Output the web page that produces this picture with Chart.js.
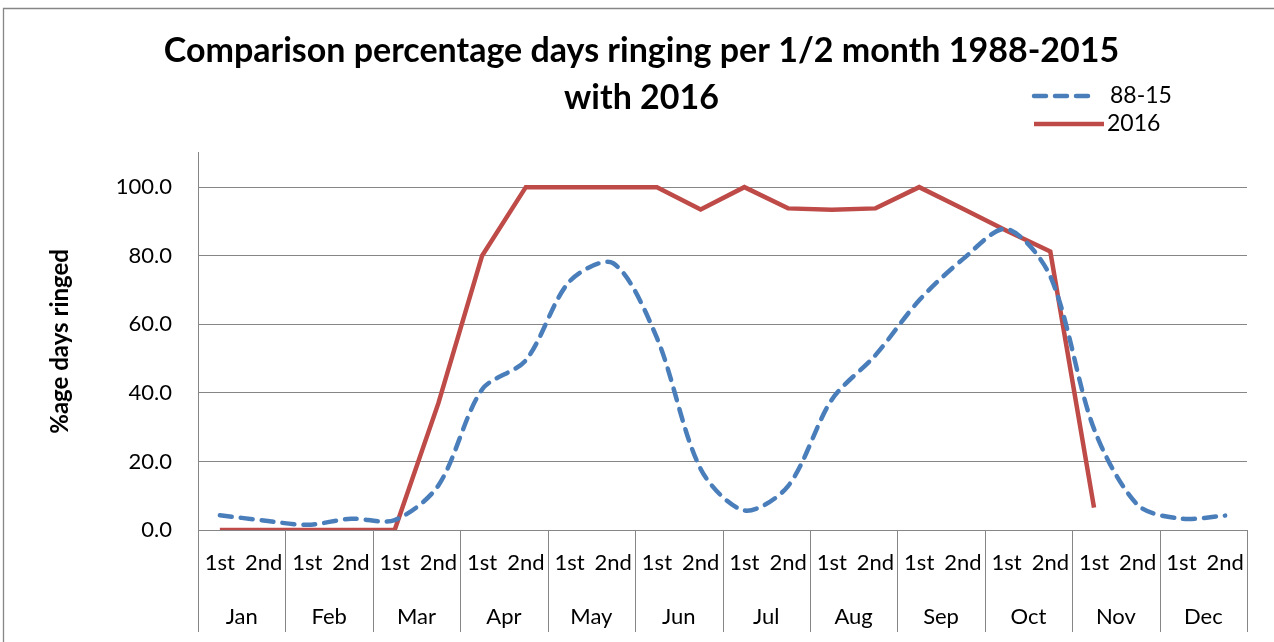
<!DOCTYPE html>
<html>
<head>
<meta charset="utf-8">
<script src="https://cdn.jsdelivr.net/npm/chart.js@4/dist/chart.umd.min.js"></script>
<style>
  html, body { margin: 0; padding: 0; background: #fff; }
  canvas { display: block; }
</style>
</head>
<body>
<canvas id="ringChart" width="1274" height="642"></canvas>
<script>
// half-month categories and month names
const halves = ['1st', '2nd', '1st', '2nd', '1st', '2nd', '1st', '2nd', '1st', '2nd', '1st', '2nd',
                '1st', '2nd', '1st', '2nd', '1st', '2nd', '1st', '2nd', '1st', '2nd', '1st', '2nd'];
const months = ['Jan', 'Feb', 'Mar', 'Apr', 'May', 'Jun', 'Jul', 'Aug', 'Sep', 'Oct', 'Nov', 'Dec'];

// percentage days ringed per half month
const avg8815 = [4.3, 2.8, 1.5, 3.3, 2.9, 13.0, 41.0, 49.5, 72.5, 77.8, 56.0, 17.8,
                 5.7, 12.8, 38.0, 51.0, 67.0, 79.0, 87.8, 74.0, 29.5, 7.3, 3.3, 4.2];
const year2016 = [0, 0, 0, 0, 0, 37.0, 80.0, 100, 100, 100, 100, 93.5,
                  100, 93.8, 93.4, 93.8, 100, 93.7, 87.3, 81.2, 6.5, null, null, null];

const yTicks = [0, 20, 40, 60, 80, 100];

const FONT = "Lato, 'Liberation Sans', sans-serif";
const GRID = '#868686';

// frame, month separators and legend
const extras = {
    id: 'extras',
    beforeDraw(chart) {
        const ctx = chart.ctx;
        ctx.save();
        ctx.strokeStyle = GRID;
        ctx.lineWidth = 1.3;
        ctx.beginPath();
        ctx.moveTo(3.5, 642);
        ctx.lineTo(3.5, 8.5);
        ctx.lineTo(1274, 8.5);
        ctx.stroke();
        ctx.restore();
    },
    afterDraw(chart) {
        const ctx = chart.ctx;
        const x = chart.scales.x;
        const area = chart.chartArea;
        const half = (x.getPixelForValue(1) - x.getPixelForValue(0)) / 2;
        ctx.save();
        ctx.strokeStyle = GRID;
        ctx.lineWidth = 1;
        for (let m = 0; m <= months.length; m++) {
            const px = Math.round(x.getPixelForValue(m * 2) - half) + 0.5;
            ctx.beginPath();
            ctx.moveTo(px, area.bottom);
            ctx.lineTo(px, 632);
            ctx.stroke();
        }
        // legend
        const items = [[chart.data.datasets[0], 1034, 1096, 96, 1110], [chart.data.datasets[1], 1034, 1104, 124, 1107]];
        items.forEach(([ds, x0, x1, y, tx]) => {
            ctx.strokeStyle = ds.borderColor;
            ctx.lineWidth = ds.borderWidth;
            ctx.lineCap = ds.borderCapStyle || 'butt';
            ctx.setLineDash(ds.borderDash || []);
            ctx.beginPath();
            ctx.moveTo(x0, y);
            ctx.lineTo(x1, y);
            ctx.stroke();
            ctx.setLineDash([]);
            ctx.fillStyle = '#000';
            ctx.font = '23px ' + FONT;
            ctx.textBaseline = 'middle';
            ctx.textAlign = 'left';
            ctx.fillText(ds.label, tx, y);
        });
        ctx.restore();
    }
};

new Chart(document.getElementById('ringChart'), {
    type: 'line',
    data: {
        labels: halves,
        datasets: [{
            label: '88-15',
            data: avg8815,
            borderColor: '#4A7EBB',
            borderWidth: 4.5,
            borderDash: [12, 9],
            borderCapStyle: 'round',
            pointRadius: 0,
            tension: 0.3,
            fill: false
        }, {
            label: '2016',
            data: year2016,
            borderColor: '#BE4B48',
            borderWidth: 4.5,
            pointRadius: 0,
            tension: 0,
            fill: false
        }]
    },
    options: {
        responsive: false,
        animation: false,
        devicePixelRatio: 1,
        layout: { padding: { left: 36, right: 27, top: 0, bottom: 0 } },
        plugins: {
            legend: { display: false },
            tooltip: { enabled: false },
            title: {
                display: true,
                text: ['Comparison percentage days ringing per 1/2 month 1988-2015', 'with 2016'],
                color: '#000',
                font: { family: FONT, size: 34, weight: 'bold', lineHeight: 1.38 },
                padding: { top: 28, bottom: 31 }
            }
        },
        scales: {
            x: {
                type: 'category',
                position: 'bottom',
                offset: true,
                grid: { display: false },
                border: { display: true, color: GRID, width: 1 },
                ticks: { color: '#000', font: { family: FONT, size: 22 }, padding: 12, maxRotation: 0, autoSkip: false },
                afterFit(scale) { scale.height = 51; }
            },
            x2: {
                type: 'category',
                position: 'bottom',
                labels: months,
                offset: true,
                grid: { display: false },
                border: { display: false },
                ticks: { color: '#000', font: { family: FONT, size: 22 }, padding: 15, maxRotation: 0, autoSkip: false },
                afterFit(scale) { scale.height = 61; }
            },
            y: {
                min: 0,
                max: 110,
                afterBuildTicks(scale) { scale.ticks = yTicks.map(v => ({ value: v })); },
                grid: { color: GRID, lineWidth: 1, drawTicks: false },
                border: { display: true, color: GRID, width: 1 },
                ticks: {
                    color: '#000',
                    font: { family: FONT, size: 22 },
                    padding: 26,
                    callback: v => Number(v).toFixed(1)
                },
                title: {
                    display: true,
                    text: '%age days ringed',
                    color: '#000',
                    font: { family: FONT, size: 24, weight: 'bold', lineHeight: 1.2 },
                    padding: { top: 10, bottom: 0 }
                },
                afterFit(scale) { scale.width = 162; }
            }
        }
    },
    plugins: [extras]
});
</script>
</body>
</html>
